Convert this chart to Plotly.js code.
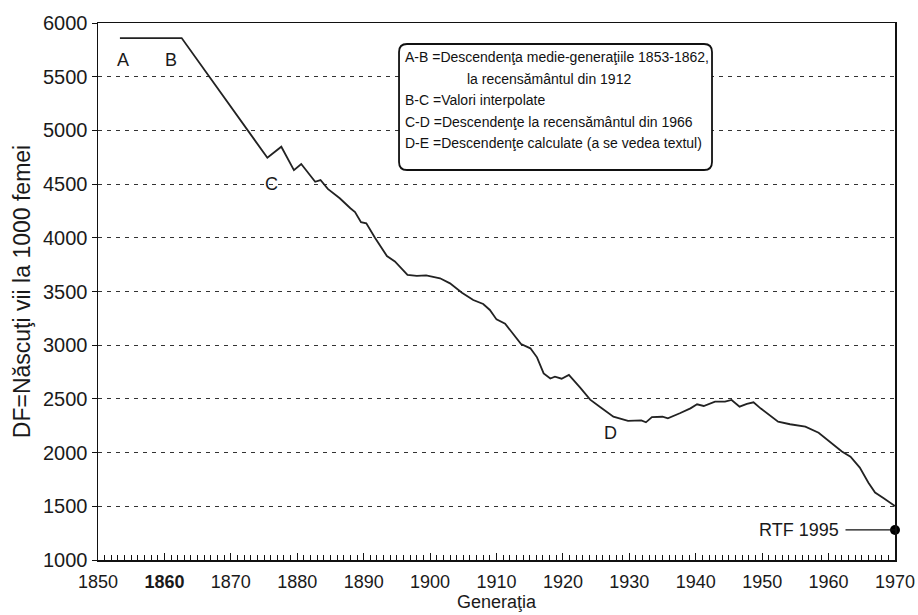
<!DOCTYPE html>
<html>
<head>
<meta charset="utf-8">
<script src="https://cdn.plot.ly/plotly-3.0.1.min.js"></script>
<style>html,body{margin:0;padding:0;background:#fff;}#chart{width:918px;height:615px;}</style>
</head>
<body>
<div id="chart"></div>
<script>
// Generation year (x) and completed fertility, live births per 1000 women (y)
const generation = [1853.3, 1862.6, 1875.5, 1877.6, 1879.5, 1880.6, 1882.7, 1883.5, 1884.6, 1886.4,
  1888.0, 1888.7, 1889.6, 1890.4, 1891.7, 1893.5, 1894.7, 1896.6, 1898.0, 1899.4,
  1901.5, 1903.0, 1904.8, 1906.5, 1908.0, 1909.0, 1910.0, 1911.3, 1913.7, 1915.1,
  1916.1, 1917.1, 1918.1, 1918.8, 1919.8, 1920.9, 1922.6, 1924.1, 1925.7, 1927.6,
  1929.8, 1931.8, 1932.5, 1933.4, 1935.0, 1935.8, 1937.6, 1939.2, 1940.2, 1941.2,
  1942.9, 1944.4, 1945.4, 1946.6, 1947.7, 1948.7, 1949.8, 1951.5, 1952.4, 1954.2,
  1956.5, 1958.5, 1960.2, 1962.0, 1963.3, 1964.7, 1966.0, 1967.0, 1968.3, 1970.0];
const descendenta = [5860, 5860, 4745, 4848, 4630, 4687, 4522, 4538, 4455, 4368,
  4275, 4240, 4145, 4135, 4000, 3830, 3780, 3654, 3645, 3650,
  3623, 3576, 3489, 3421, 3384, 3328, 3240, 3200, 3010, 2971,
  2887, 2738, 2690, 2707, 2688, 2723, 2605, 2493, 2420, 2334,
  2296, 2300, 2282, 2330, 2334, 2319, 2366, 2412, 2450, 2434,
  2474, 2474, 2490, 2428, 2453, 2468, 2410, 2330, 2288, 2264,
  2241, 2185, 2102, 2010, 1962, 1860, 1720, 1628, 1575, 1503];
// RTF 1995 point
const rtfYear = [1970];
const rtfValue = [1280];
// Axis ticks
const xTickVals = [1850, 1860, 1870, 1880, 1890, 1900, 1910, 1920, 1930, 1940, 1950, 1960, 1970];
const xTickText = ['1850', '<b>1860</b>', '1870', '1880', '1890', '1900', '1910', '1920', '1930', '1940', '1950', '1960', '1970'];
const yTickVals = [1000, 1500, 2000, 2500, 3000, 3500, 4000, 4500, 5000, 5500, 6000];
// Box text
const boxLines = [
  'A-B =Descendenţa medie-generaţiile 1853-1862,',
  'la recensământul din 1912',
  'B-C =Valori interpolate',
  'C-D =Descendenţe la recensământul din 1966',
  'D-E =Descendenţe calculate (a se vedea textul)'
];

const FONT = 'Liberation Sans, Arial, sans-serif';
const INK = '#1a1a1a';

const traces = [
  {x: generation, y: descendenta, type: 'scatter', mode: 'lines',
   line: {color: '#222', width: 1.8}, hoverinfo: 'x+y', showlegend: false},
  {x: rtfYear, y: rtfValue, type: 'scatter', mode: 'markers',
   marker: {symbol: 'circle', size: 10, color: '#000'}, cliponaxis: false, showlegend: false}
];

// rounded box in paper coords
const bx0 = 0.3777, bx1 = 0.7704, by0 = 0.7263, by1 = 0.9609, rx = 0.010, ry = 0.015;
const boxPath = `M ${bx0+rx},${by1} L ${bx1-rx},${by1} Q ${bx1},${by1} ${bx1},${by1-ry} L ${bx1},${by0+ry} Q ${bx1},${by0} ${bx1-rx},${by0} L ${bx0+rx},${by0} Q ${bx0},${by0} ${bx0},${by0+ry} L ${bx0},${by1-ry} Q ${bx0},${by1} ${bx0+rx},${by1} Z`;

const lineX = [0.3830, 0.4600, 0.3830, 0.3830, 0.3830];
const lineY = [0.9367, 0.8957, 0.8566, 0.8156, 0.7765];

const annotations = boxLines.map((t, i) => ({
  text: t, xref: 'paper', yref: 'paper', x: lineX[i], y: lineY[i],
  xanchor: 'left', yanchor: 'middle', showarrow: false,
  font: {family: FONT, size: 14, color: '#111'}
}));

const letter = (t, x, y) => ({text: t, x: x, y: y, xref: 'x', yref: 'y', showarrow: false,
  xanchor: 'center', yanchor: 'middle', font: {family: FONT, size: 18, color: INK}});
annotations.push(letter('A', 1853.8, 5655));
annotations.push(letter('B', 1861.0, 5655));
annotations.push(letter('C', 1876.1, 4505));
annotations.push(letter('D', 1927.1, 2180));
annotations.push(letter('E', 1972.4, 1560));

annotations.push({
  text: 'RTF 1995', x: rtfYear[0], y: rtfValue[0], xref: 'x', yref: 'y',
  showarrow: true, arrowhead: 0, arrowwidth: 1.3, arrowcolor: '#111',
  ax: -96, ay: 0, borderpad: 6, standoff: 0,
  font: {family: FONT, size: 18, color: INK}
});

const layout = {
  width: 918, height: 615,
  margin: {l: 98, r: 23, t: 23, b: 55, pad: 0},
  paper_bgcolor: '#fff', plot_bgcolor: '#fff',
  font: {family: FONT, size: 14, color: INK},
  showlegend: false,
  xaxis: {
    range: [1850, 1970], tickmode: 'array', tickvals: xTickVals, ticktext: xTickText,
    ticks: 'inside', ticklen: 7, tickwidth: 1, tickcolor: '#111',
    minor: {dtick: 1, ticks: 'inside', ticklen: 5, tickwidth: 1, tickcolor: '#111', showgrid: false},
    showgrid: false, zeroline: false, showline: true, linecolor: '#111', linewidth: 1.5,
    mirror: true, ticklabelstandoff: 5,
    tickfont: {family: FONT, size: 18, color: INK},
    title: {text: 'Generaţia', font: {family: FONT, size: 18, color: INK}, standoff: 2}
  },
  yaxis: {
    range: [1000, 6000], tickmode: 'array', tickvals: yTickVals,
    ticks: 'outside', ticklen: 5, tickwidth: 1, tickcolor: '#111',
    showgrid: true, gridcolor: '#333', griddash: '4px,5px', gridwidth: 1,
    zeroline: false, showline: true, linecolor: '#111', linewidth: 1.5, mirror: true,
    tickfont: {family: FONT, size: 20, color: INK},
    title: {text: 'DF=Născuţi vii la 1000 femei', font: {family: FONT, size: 23, color: INK}, standoff: 6}
  },
  shapes: [
    {type: 'path', xref: 'paper', yref: 'paper', path: boxPath,
     fillcolor: '#fff', line: {color: '#111', width: 1.8}, layer: 'above'}
  ],
  annotations: annotations
};

Plotly.newPlot('chart', traces, layout, {displayModeBar: false, staticPlot: true});
</script>
</body>
</html>
